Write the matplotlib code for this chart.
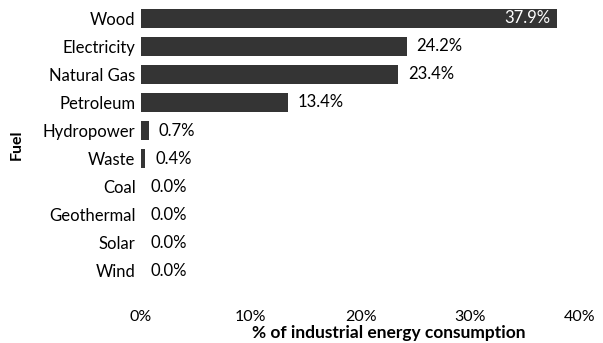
import numpy as np
import matplotlib
matplotlib.use("Agg")
import matplotlib.pyplot as plt

fuels = ["Wood", "Electricity", "Natural Gas", "Petroleum", "Hydropower",
         "Waste", "Coal", "Geothermal", "Solar", "Wind"]
shares = [37.9, 24.2, 23.4, 13.4, 0.7, 0.4, 0.0, 0.0, 0.0, 0.0]
xticks = [0, 10, 20, 30, 40]

plt.rcParams["font.family"] = ["Lato", "DejaVu Sans"]

fig = plt.figure(figsize=(6.03, 3.43), dpi=100)
ax = fig.add_axes([0.234, 0.169, 0.728, 0.819])

y = np.arange(len(fuels))
ax.barh(y, shares, height=0.68, color="#343434")

for yi, v in zip(y, shares):
    if v > 30:
        ax.text(v - 0.6, yi, f"{v:.1f}%", ha="right", va="center",
                color="white", fontsize=12)
    else:
        ax.text(v + 0.9, yi, f"{v:.1f}%", ha="left", va="center",
                color="black", fontsize=12)

ax.set_xlim(0, 40)
ax.set_ylim(len(fuels) - 0.5, -0.5)
ax.set_yticks(y)
ax.set_yticklabels(fuels, fontsize=12)
ax.set_xticks(xticks)
ax.set_xticklabels([f"{t}%" for t in xticks], fontsize=11.5)
ax.tick_params(axis="both", length=0)
ax.tick_params(axis="x", pad=18)
ax.tick_params(axis="y", pad=4)
for s in ax.spines.values():
    s.set_visible(False)

ax.set_xlabel("% of industrial energy consumption", fontsize=12.5,
              fontweight="bold", labelpad=1)
ax.xaxis.label.set_x(0.565)
ax.set_ylabel("Fuel", fontsize=11.5, fontweight="bold", labelpad=14)

fig.savefig("out.png", dpi=100)
